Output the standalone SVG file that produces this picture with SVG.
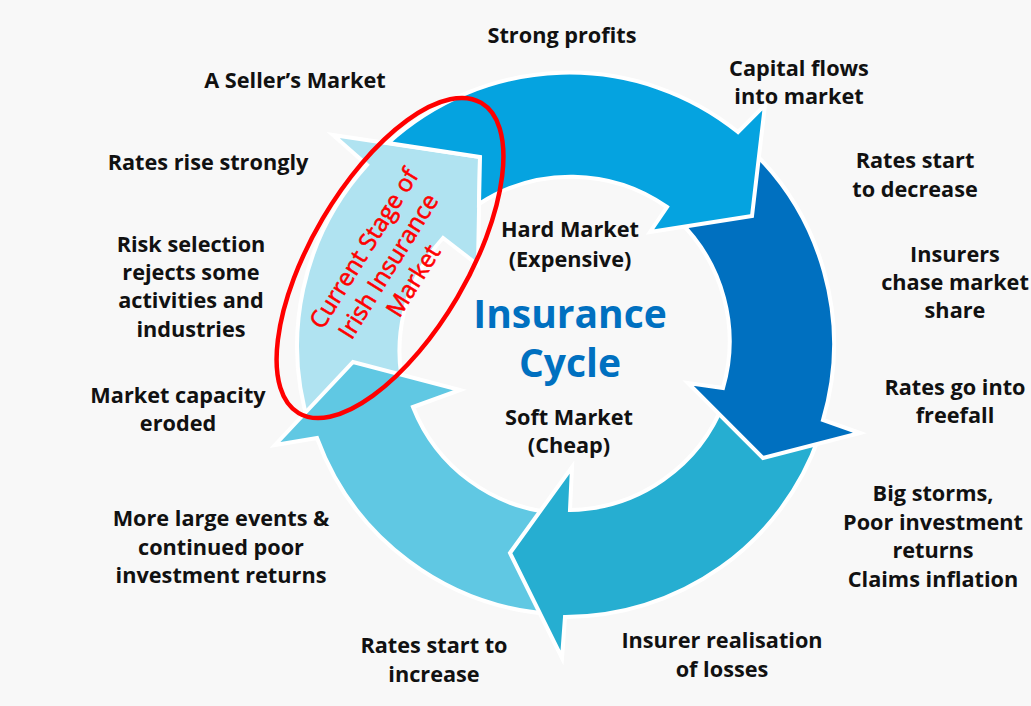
<svg xmlns="http://www.w3.org/2000/svg" width="1031" height="706" viewBox="0 0 1031 706">
<style>
.arrow{stroke:#ffffff;stroke-width:4;stroke-linejoin:miter}
.lbl{font-family:"Open Sans","Liberation Sans",sans-serif;font-weight:700;font-size:21.7px;fill:#111111;text-anchor:middle}
.title{font-family:"Open Sans","Liberation Sans",sans-serif;font-weight:700;font-size:39px;fill:#0070c0;text-anchor:middle}
.red{font-family:"Open Sans","Liberation Sans",sans-serif;font-weight:400;font-size:24px;fill:#ff0000;stroke:#ff0000;stroke-width:0.6;text-anchor:middle}
</style>
<rect x="0" y="0" width="1031" height="706" fill="#f8f8f8"/>
<g id="cycle-arrows">
  <path id="arrow-rising" class="arrow" fill="#b0e3f1" d="M 310,428 A 269 269 0 0 1 367,165 L 333,135 L 480,157 L 478,265 L 443,238 A 168 168 0 0 0 406,397 Z"/>
  <path id="arrow-increase" class="arrow" fill="#60c8e3" d="M 552,614 A 269 269 0 0 1 317,438 L 275,445 L 353,362 L 460,390 L 413,407 A 168 168 0 0 0 557,513 Z"/>
  <path id="arrow-losses" class="arrow" fill="#26aed1" d="M 819,437 A 269 269 0 0 1 565,617 L 562,658 L 510,553 L 572,467 L 570,510 A 168 168 0 0 0 724,402 Z"/>
  <path id="arrow-decrease" class="arrow" fill="#0070c0" d="M 746,145 A 269 269 0 0 1 823,420 L 860,433 L 763,458 L 688,383 L 723,388 A 168 168 0 0 0 678,220 Z"/>
  <path id="arrow-profits" class="arrow" fill="#05a3e0" d="M 388,143 A 269 269 0 0 1 738,132 L 765,105 L 752,216 L 650,232 L 667,207 A 168 168 0 0 0 479,204 L 480,157 Z"/>
</g>
<g id="current-stage">
  <ellipse cx="390" cy="258" rx="180" ry="78" transform="rotate(-59.5 390 258)" fill="none" stroke="#ff0000" stroke-width="4.5"/>
  <text class="red" transform="translate(388 266) rotate(-58)"><tspan x="2" y="-21.5">Current Stage of</tspan><tspan x="0" y="8.5">Irish Insurance</tspan><tspan x="1" y="37.5">Market</tspan></text>
</g>
<g id="center-labels">
  <text class="lbl"><tspan x="570" y="237">Hard Market</tspan><tspan x="570" y="267">(Expensive)</tspan></text>
  <text class="title"><tspan x="570" y="328">Insurance</tspan><tspan x="570" y="377">Cycle</tspan></text>
  <text class="lbl"><tspan x="569" y="425">Soft Market</tspan><tspan x="569" y="453">(Cheap)</tspan></text>
</g>
<g id="label-strong-profits"><text class="lbl" x="562" y="43">Strong profits</text></g>
<g id="label-capital"><text class="lbl"><tspan x="799" y="76">Capital flows</tspan><tspan x="799" y="104">into market</tspan></text></g>
<g id="label-rates-decrease"><text class="lbl"><tspan x="915" y="168">Rates start</tspan><tspan x="915" y="197">to decrease</tspan></text></g>
<g id="label-insurers-chase"><text class="lbl"><tspan x="955" y="262">Insurers</tspan><tspan x="955" y="290">chase market</tspan><tspan x="955" y="318">share</tspan></text></g>
<g id="label-freefall"><text class="lbl"><tspan x="955" y="395">Rates go into</tspan><tspan x="955" y="423">freefall</tspan></text></g>
<g id="label-storms"><text class="lbl"><tspan x="933" y="501">Big storms,</tspan><tspan x="933" y="530">Poor investment</tspan><tspan x="933" y="558">returns</tspan><tspan x="933" y="587">Claims inflation</tspan></text></g>
<g id="label-realisation"><text class="lbl"><tspan x="722" y="648">Insurer realisation</tspan><tspan x="722" y="677">of losses</tspan></text></g>
<g id="label-rates-increase"><text class="lbl"><tspan x="434" y="653">Rates start to</tspan><tspan x="434" y="682">increase</tspan></text></g>
<g id="label-large-events"><text class="lbl"><tspan x="221" y="526">More large events &amp;</tspan><tspan x="221" y="555">continued poor</tspan><tspan x="221" y="583">investment returns</tspan></text></g>
<g id="label-capacity"><text class="lbl"><tspan x="178" y="403">Market capacity</tspan><tspan x="178" y="431">eroded</tspan></text></g>
<g id="label-risk-selection"><text class="lbl"><tspan x="191" y="252">Risk selection</tspan><tspan x="191" y="280">rejects some</tspan><tspan x="191" y="308">activities and</tspan><tspan x="191" y="337">industries</tspan></text></g>
<g id="label-rates-rise"><text class="lbl" x="208" y="170">Rates rise strongly</text></g>
<g id="label-sellers-market"><text class="lbl" x="295" y="88">A Seller’s Market</text></g>
</svg>
